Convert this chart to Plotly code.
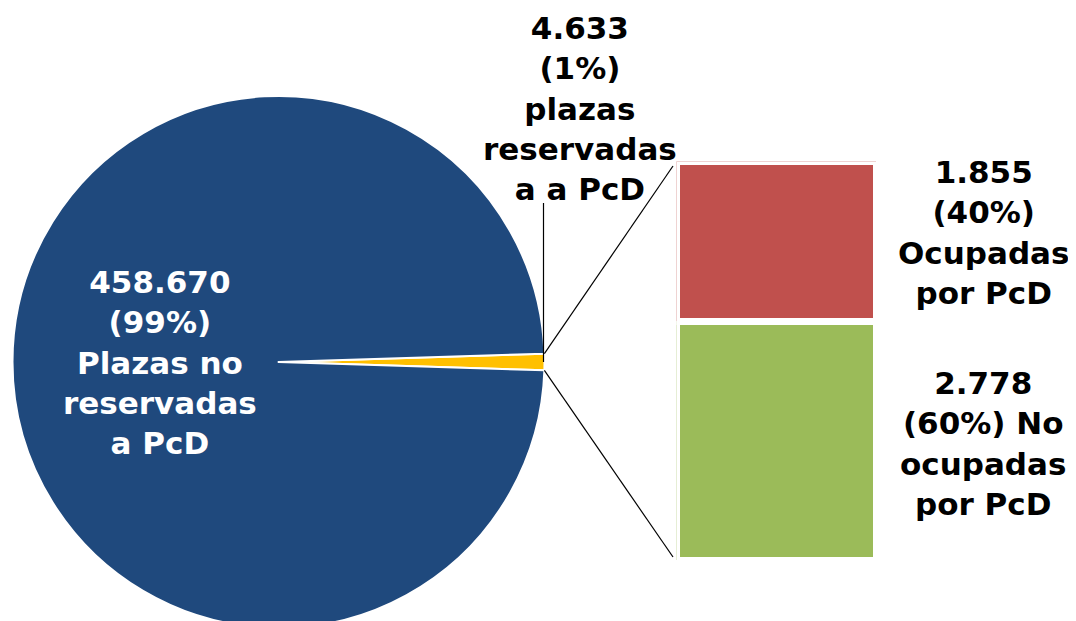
"""
Pie-of-bar: plazas de aparcamiento reservadas a PcD
"""

import numpy as np
import plotly.graph_objects as go

W, H = 1076, 621
# the page body adds an 8px margin, positions below are screen pixels
OFF = 8

# pie: reserved vs non reserved places
PIE_VALUES = [4633, 458670]
PIE_NAMES = ["plazas\nreservadas\na a PcD", "Plazas no\nreservadas\na PcD"]
PIE_COLORS = ["#FFC000", "#1F497D"]

# bar: breakdown of the reserved places
BAR_CATEGORY = ["Plazas reservadas"]
BAR_VALUES = [2778, 1855]
BAR_NAMES = ["No\nocupadas\npor PcD", "Ocupadas\npor PcD"]
BAR_COLORS = ["#9BBB59", "#C0504D"]

FONT = "DejaVu Sans"

# pie geometry in screen pixels
CX, CY, R = 278.5, 362, 266


def px(x, y):
    """screen pixel position -> paper coordinates"""
    return (x - OFF) / W, 1 - (y - OFF) / H


def fmt(v):
    return f"{v:,}".replace(",", ".")


def label(value, total, name, join_pct=False):
    pct = f"({round(100 * value / total)}%)"
    lines = name.split("\n")
    if join_pct:
        first = [fmt(value), pct + " " + lines[0]] + lines[1:]
    else:
        first = [fmt(value), pct] + lines
    return "<b>" + "<br>".join(first) + "</b>"


def main():
    fig = go.Figure()

    pie_total = sum(PIE_VALUES)
    share = PIE_VALUES[0] / pie_total
    x0, y1 = px(CX - R, CY - R)
    x1, y0 = px(CX + R, CY + R)

    # small slice centred on 3 o'clock
    fig.add_trace(go.Pie(
        values=PIE_VALUES,
        labels=["reservadas", "no reservadas"],
        marker=dict(colors=PIE_COLORS, line=dict(color="white", width=2)),
        sort=False,
        direction="clockwise",
        rotation=90 - 180 * share,
        textinfo="none",
        hoverinfo="skip",
        domain=dict(x=[x0, x1], y=[max(y0, 0), y1]),
    ))

    for name, val, col in zip(BAR_NAMES, BAR_VALUES, BAR_COLORS):
        fig.add_trace(go.Bar(
            x=BAR_CATEGORY,
            y=[val],
            name=name,
            marker=dict(color=col, line=dict(color="white", width=7)),
            hoverinfo="skip",
        ))

    # connector lines from the small slice to the bar
    half = np.pi * share
    ex = CX + R * np.cos(half)
    top = px(ex, CY - R * np.sin(half))
    bot = px(ex, CY + R * np.sin(half))
    bar_top = px(673, 166)
    bar_bot = px(673, 557)
    line = dict(color="black", width=1.2)
    lead_x = px(CX + R - 1, 0)[0]
    shapes = [
        dict(type="line", xref="paper", yref="paper",
             x0=top[0], y0=top[1], x1=bar_top[0], y1=bar_top[1], line=line),
        dict(type="line", xref="paper", yref="paper",
             x0=bot[0], y0=bot[1], x1=bar_bot[0], y1=bar_bot[1], line=line),
        # leader line for the small slice label
        dict(type="line", xref="paper", yref="paper",
             x0=lead_x, y0=px(0, 203)[1],
             x1=lead_x, y1=px(0, CY)[1], line=line),
    ]

    bar_total = sum(BAR_VALUES)
    annotations = []
    spots = [
        (PIE_VALUES[0], pie_total, PIE_NAMES[0], False, (580, 108), "black"),
        (PIE_VALUES[1], pie_total, PIE_NAMES[1], False, (160, 362), "white"),
        (BAR_VALUES[1], bar_total, BAR_NAMES[1], False, (983, 232), "black"),
        (BAR_VALUES[0], bar_total, BAR_NAMES[0], True, (983, 443), "black"),
    ]
    for val, tot, name, join, (x, y), color in spots:
        ax, ay = px(x, y)
        annotations.append(dict(
            x=ax, y=ay, xref="paper", yref="paper",
            text=label(val, tot, name, join), showarrow=False,
            align="center", xanchor="center", yanchor="middle",
            font=dict(family=FONT, size=31, color=color)))

    bx0, by0 = px(676.5, 560.5)
    bx1, by1 = px(876.5, 161.5)
    fig.update_layout(
        width=W,
        height=H,
        margin=dict(l=0, r=0, t=0, b=0),
        paper_bgcolor="white",
        plot_bgcolor="white",
        showlegend=False,
        barmode="stack",
        bargap=0,
        xaxis=dict(domain=[bx0, bx1], range=[-0.5, 0.5], visible=False),
        yaxis=dict(domain=[by0, by1], range=[0, bar_total], visible=False),
        shapes=shapes,
        annotations=annotations,
    )

    fig.write_html("out.html")


if __name__ == '__main__':
    main()
